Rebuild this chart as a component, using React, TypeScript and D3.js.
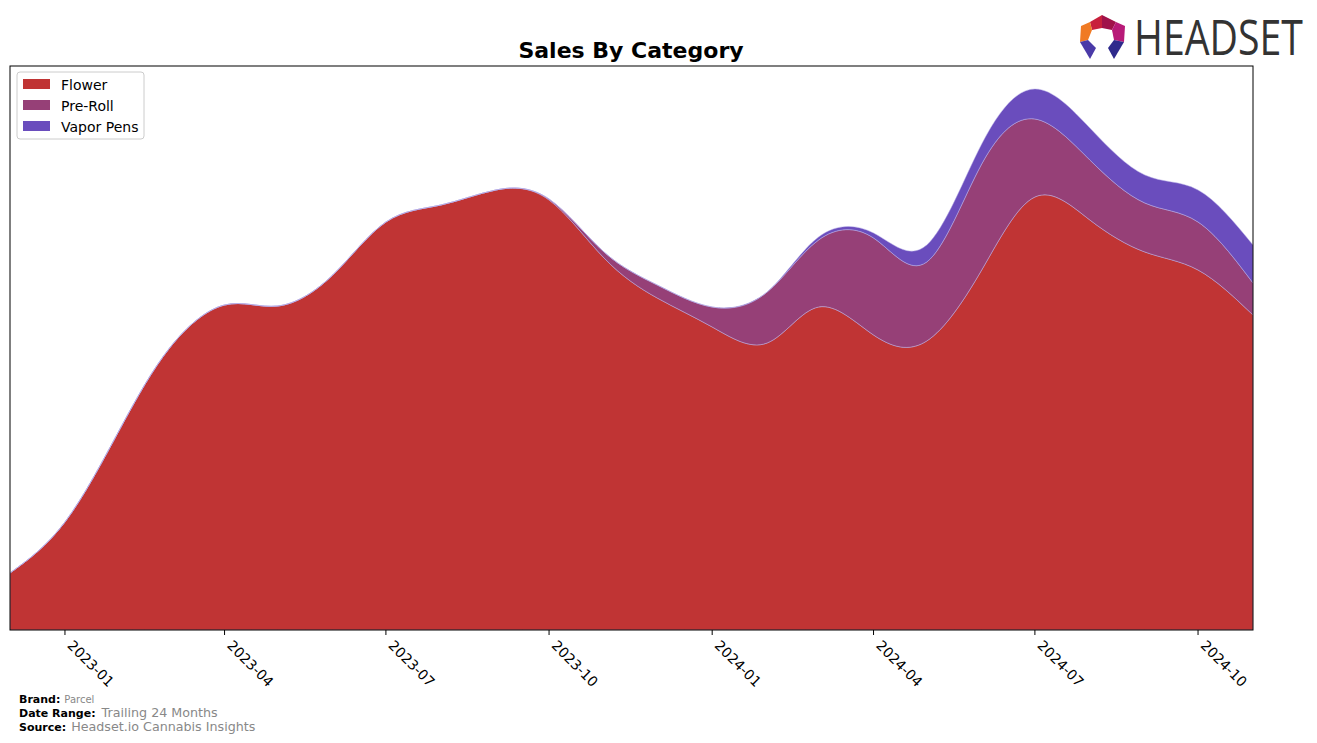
import React from "react";
import * as d3 from "d3";

const months = [
  "2022-12","2023-01","2023-02","2023-03","2023-04","2023-05","2023-06","2023-07",
  "2023-08","2023-09","2023-10","2023-11","2023-12","2024-01","2024-02","2024-03",
  "2024-04","2024-05","2024-06","2024-07","2024-08","2024-09","2024-10","2024-11",
];
const flower = [57,108,201,282,325,324,355,408,425,440,430,372,332,303,287,323,295,289,360,433,410,378,360,315];
const preRoll = [0,0,0,0,0,0,0,0,0,0,1,6,13,20,51,67,97,79,106,78,60,49,48,32];
const vaporPens = [0,0,0,0,0,0,0,0,0,0,0,0,0,0,0,3,5,17,20,30,32,28,32,38];
const seriesNames = ["Flower","Pre-Roll","Vapor Pens"];
const colors = ["#c03434","#964077","#6a4dbd"];
const tickLabels = ["2023-01","2023-04","2023-07","2023-10","2024-01","2024-04","2024-07","2024-10"];
const yMax = 564;

export default function App() {
  const W = 1317, H = 743;
  const left = 10, right = 1253, top = 66, bottom = 630;
  const parse = d3.timeParse("%Y-%m");
  const dates = months.map((m) => parse(m) as Date);
  const x = d3.scaleTime().domain([dates[0], dates[dates.length - 1]]).range([left, right]);
  const y = d3.scaleLinear().domain([0, yMax]).range([bottom, top]);
  const rows = months.map((m, i) => ({ date: dates[i], Flower: flower[i], "Pre-Roll": preRoll[i], "Vapor Pens": vaporPens[i] }));
  const stack = d3.stack<any>().keys(seriesNames);
  const layers = stack(rows);
  const area = d3.area<any>()
    .x((d) => x(d.data.date))
    .y0((d) => y(d[0]))
    .y1((d) => y(d[1]))
    .curve(d3.curveNatural);
  const ticks = tickLabels.map((t) => ({ t, d: parse(t) as Date }));

  return (
    <svg width={W} height={H} style={{ position: "absolute", left: 0, top: 0 }} fontFamily="DejaVu Sans">
      <defs>
        <clipPath id="plotclip"><rect x={left} y={top} width={right - left} height={bottom - top} /></clipPath>
      </defs>
      <text x={631} y={58} textAnchor="middle" fontSize={22} fontWeight="bold">Sales By Category</text>
      <g clipPath="url(#plotclip)">
        {layers.map((l, i) => (
          <path key={i} d={area(l) || ""} fill={colors[i]} stroke="#b8b0e8" strokeOpacity={0.7} strokeWidth={0.7} />
        ))}
      </g>
      <rect x={left} y={top} width={right - left} height={bottom - top} fill="none" stroke="#000" strokeWidth={1} />
      {ticks.map(({ t, d }) => {
        const xx = x(d);
        return (
          <g key={t}>
            <line x1={xx} x2={xx} y1={bottom} y2={bottom + 5} stroke="#000" />
            <text transform={`translate(${xx + 9},${bottom + 9}) rotate(45)`} fontSize={14} dominantBaseline="hanging">{t}</text>
          </g>
        );
      })}
      <g>
        <rect x={17} y={72} width={127} height={67} rx={3} fill="#fff" stroke="#ccc" />
        {seriesNames.map((s, i) => (
          <g key={s}>
            <rect x={23} y={79 + i * 21} width={27} height={10} fill={colors[i]} />
            <text x={61} y={90 + i * 21} fontSize={14}>{s}</text>
          </g>
        ))}
      </g>
      <g fontSize={11}>
        <text x={19} y={703}><tspan fontWeight="bold">Brand:</tspan><tspan fill="#888" dx={4} fontSize={10}>Parcel</tspan></text>
        <text x={19} y={717}><tspan fontWeight="bold">Date Range:</tspan><tspan fill="#888" dx={6} fontSize={12.7}>Trailing 24 Months</tspan></text>
        <text x={19} y={731}><tspan fontWeight="bold">Source:</tspan><tspan fill="#888" dx={5} fontSize={12.7}>Headset.io Cannabis Insights</tspan></text>
      </g>
      <g>
        <polygon points="1090,22 1102,15 1102,28 1092,30" fill="#c8203c" />
        <polygon points="1102,15 1116,22 1112,30 1102,28" fill="#a0124a" />
        <polygon points="1116,22 1125,26 1124,42 1114,40 1112,30" fill="#b81a78" />
        <polygon points="1090,22 1092,30 1088,40 1080,42 1081,26" fill="#f07a24" />
        <polygon points="1080,42 1088,40 1096,48 1090,59" fill="#4a3aa8" />
        <polygon points="1124,42 1114,40 1108,48 1114,59" fill="#2e2a8c" />
        <text transform="translate(1134,55) scale(0.8,1)" fontSize={49} fill="#333" fontFamily="Open Sans">HEADSET</text>
      </g>
    </svg>
  );
}
